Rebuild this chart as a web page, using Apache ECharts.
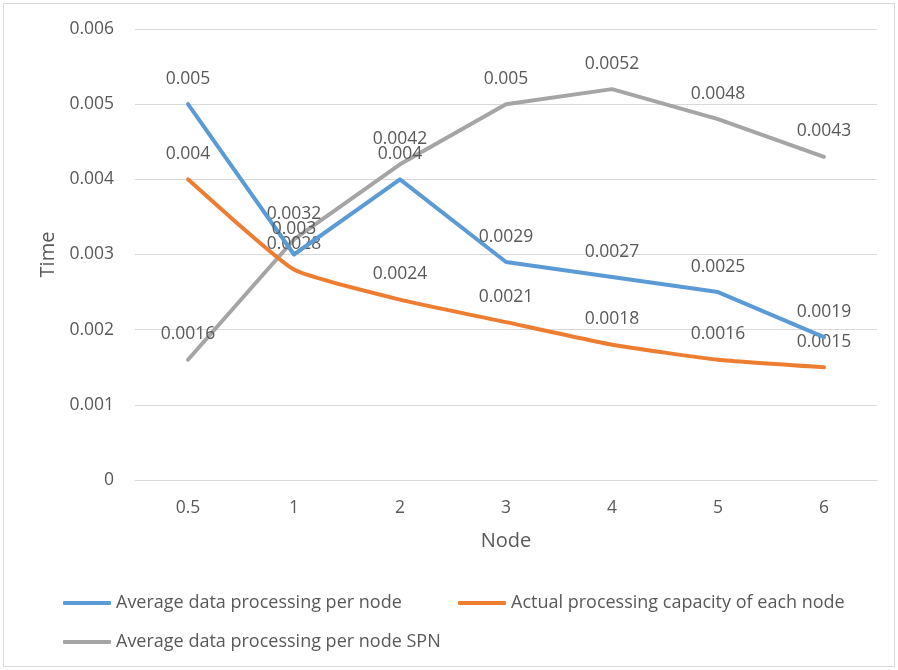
<!DOCTYPE html>
<html><head><meta charset="utf-8">
<script src="https://cdn.jsdelivr.net/npm/echarts@6/dist/echarts.min.js"></script>
<style>html,body{margin:0;padding:0;background:#fff}#c{width:898px;height:670px}</style>
</head><body><div id="c"></div>
<script>
const categories = ['0.5','1','2','3','4','5','6'];
const avgPerNode = [0.005,0.003,0.004,0.0029,0.0027,0.0025,0.0019];
const actualCapacity = [0.004,0.0028,0.0024,0.0021,0.0018,0.0016,0.0015];
const avgPerNodeSPN = [0.0016,0.0032,0.0042,0.005,0.0052,0.0048,0.0043];
const yTicks = [0,0.001,0.002,0.003,0.004,0.005,0.006];
const names = ['Average data processing per node','Actual processing capacity of each node','Average data processing per node SPN'];
const colors = ['#5B9BD5','#ED7D31','#A5A5A5'];
const font = 'Open Sans';
const txt = '#595959';
const chart = echarts.init(document.getElementById('c'));
function mk(i, data, smooth){
  return {name:names[i], type:'line', data:data, smooth:smooth,
    symbol:'circle', symbolSize:1, showSymbol:true,
    itemStyle:{color:colors[i]},
    lineStyle:{color:colors[i], width:4, cap:'round', join:'round'},
    label:{show:true, position:'top', distance:16, color:txt, fontFamily:font, fontSize:17.5,
      formatter:p=>String(p.value)},
    emphasis:{disabled:true}, animation:false, z:3-i};
}
const legText = {color:txt, fontFamily:font, fontSize:18};
chart.setOption({
  animation:false,
  graphic:[{type:'rect', shape:{x:3.5,y:3.5,width:891,height:663}, style:{fill:'none', stroke:'#D9D9D9', lineWidth:1}, silent:true}],
  grid:{left:135, right:21, top:29, bottom:190, containLabel:false},
  xAxis:{type:'category', data:categories, boundaryGap:true,
    name:'Node', nameLocation:'middle', nameGap:51,
    nameTextStyle:{color:txt, fontFamily:font, fontSize:20},
    axisLine:{show:true, lineStyle:{color:'#D9D9D9', width:1}}, axisTick:{show:false},
    axisLabel:{color:txt, fontFamily:font, fontSize:17.5, margin:19}},
  yAxis:{type:'value', min:yTicks[0], max:yTicks[yTicks.length-1], interval:0.001,
    name:'Time', nameLocation:'middle', nameGap:76, nameRotate:90,
    nameTextStyle:{color:txt, fontFamily:font, fontSize:20},
    axisLine:{show:false}, axisTick:{show:false},
    splitLine:{lineStyle:{color:'#D9D9D9', width:1}},
    axisLabel:{color:txt, fontFamily:font, fontSize:17.5, margin:21, formatter:v=>String(+v.toFixed(4))}},
  legend:[
    {data:[names[0]], left:58, top:589, itemWidth:48, itemHeight:4, icon:'roundRect', textStyle:legText, selectedMode:false},
    {data:[names[1]], left:453, top:589, itemWidth:48, itemHeight:4, icon:'roundRect', textStyle:legText, selectedMode:false},
    {data:[names[2]], left:58, top:628, itemWidth:48, itemHeight:4, icon:'roundRect', textStyle:legText, selectedMode:false}
  ],
  series:[mk(0, avgPerNode, false), mk(1, actualCapacity, 0.15), mk(2, avgPerNodeSPN, false)]
});
</script></body></html>
